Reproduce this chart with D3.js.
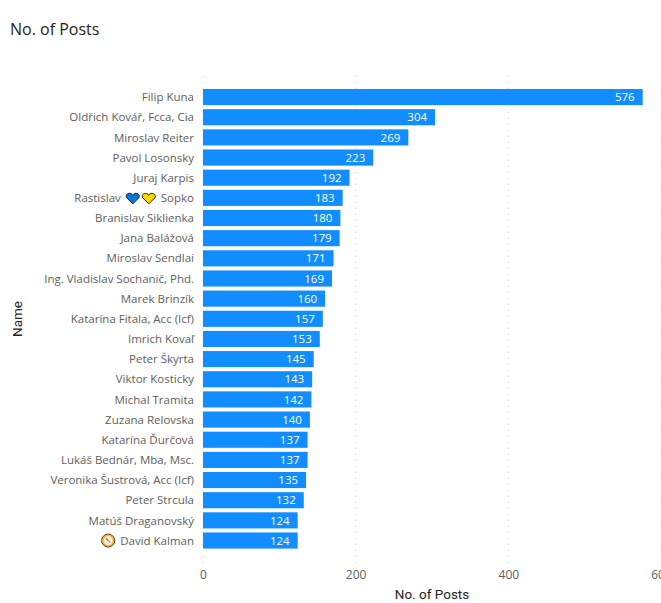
<!DOCTYPE html>
<html>
<head>
<meta charset="utf-8">
<script src="https://cdn.jsdelivr.net/npm/d3@7"></script>
<style>
html, body { margin: 0; padding: 0; background: #fff; overflow: hidden; }
text { font-family: "Open Sans", sans-serif; }
</style>
</head>
<body>
<div id="chart"></div>
<script>
var names = ["Filip Kuna", "Oldřich Kovář, Fcca, Cia", "Miroslav Reiter", "Pavol Losonsky", "Juraj Karpis",
	"Rastislav Sopko", "Branislav Siklienka", "Jana Balážová", "Miroslav Sendlai", "Ing. Vladislav Sochanič, Phd.",
	"Marek Brinzík", "Katarína Fitala, Acc (Icf)", "Imrich Kovaľ", "Peter Škyrta", "Viktor Kosticky",
	"Michal Tramita", "Zuzana Relovska", "Katarína Ďurčová", "Lukáš Bednár, Mba, Msc.", "Veronika Šustrová, Acc (Icf)",
	"Peter Strcula", "Matúš Draganovský", "David Kalman"];
var posts = [576, 304, 269, 223, 192, 183, 180, 179, 171, 169, 160, 157, 153, 145, 143, 142, 140, 137, 137, 135, 132, 124, 124];
var xTicks = [0, 200, 400, 600];
var titleText = "No. of Posts";
var xTitle = "No. of Posts";
var yTitle = "Name";

var width = 661, height = 603;
var labelX = 194;

var svg = d3.select("#chart").append("svg")
	.attr("width", width)
	.attr("height", height);

var x = d3.scaleLinear().domain([0, 600]).range([203, 661]);
var y = d3.scaleBand().domain(names).range([87, 550.6]).paddingInner(0.2).paddingOuter(0.1);

svg.append("text")
	.attr("x", 10)
	.attr("y", 35)
	.attr("font-size", 16)
	.attr("fill", "#252423")
	.text(titleText);

// dotted gridlines
svg.append("g").selectAll("line")
	.data(xTicks)
	.enter()
	.append("line")
	.attr("x1", function(d){ return x(d); })
	.attr("x2", function(d){ return x(d); })
	.attr("y1", 76)
	.attr("y2", 565)
	.attr("stroke", "#d2d0ce")
	.attr("stroke-width", 1)
	.attr("stroke-dasharray", "1,5");

var xAxis = d3.axisBottom(x).tickValues(xTicks).tickSize(0).tickPadding(0);
var xg = svg.append("g")
	.attr("transform", "translate(0,570)")
	.call(xAxis);
xg.select(".domain").remove();
xg.selectAll("text")
	.attr("font-size", 12)
	.attr("font-family", '"Open Sans", sans-serif')
	.attr("fill", "#605e5c");

svg.append("g").selectAll("rect")
	.data(posts)
	.enter()
	.append("rect")
	.attr("x", x(0))
	.attr("y", function(d, i){ return y(names[i]); })
	.attr("width", function(d){ return x(d) - x(0); })
	.attr("height", y.bandwidth())
	.attr("fill", "#118dff");

svg.append("g").selectAll("text")
	.data(posts)
	.enter()
	.append("text")
	.attr("x", function(d){ return x(d) - 8; })
	.attr("y", function(d, i){ return y(names[i]) + y.bandwidth() / 2; })
	.attr("dy", "0.36em")
	.attr("text-anchor", "end")
	.attr("font-size", 11.5)
	.attr("fill", "#fff")
	.text(function(d){ return d; });

function drawHeart(g, cx, cy, fill){
	g.append("path")
		.attr("transform", "translate(" + cx + "," + cy + ")")
		.attr("d", "M0,5.5 L-6,-0.5 C-7.6,-3 -5.5,-5 -3.2,-5 C-1.7,-5 -0.6,-4.2 0,-3 C0.6,-4.2 1.7,-5 3.2,-5 C5.5,-5 7.6,-3 6,-0.5 Z")
		.attr("fill", fill)
		.attr("stroke", "#1b1a19")
		.attr("stroke-width", 1);
}

function drawCompass(g, cx, cy){
	g.append("circle").attr("cx", cx).attr("cy", cy).attr("r", 6.5)
		.attr("fill", "#fdf3dc").attr("stroke", "#2b2010").attr("stroke-width", 1);
	g.append("circle").attr("cx", cx).attr("cy", cy).attr("r", 5.2)
		.attr("fill", "none").attr("stroke", "#ffb31a").attr("stroke-width", 1.5);
	g.append("line").attr("x1", cx - 2).attr("y1", cy - 2).attr("x2", cx).attr("y2", cy)
		.attr("stroke", "#d9483b").attr("stroke-width", 1.2);
	g.append("line").attr("x1", cx).attr("y1", cy).attr("x2", cx + 2).attr("y2", cy + 2)
		.attr("stroke", "#9a9a9a").attr("stroke-width", 1.2);
}

var labels = svg.append("g");
names.forEach(function(name){
	var cy = y(name) + y.bandwidth() / 2;
	var t = labels.append("text")
		.attr("x", labelX)
		.attr("y", cy)
		.attr("dy", "0.36em")
		.attr("text-anchor", "end")
		.attr("font-size", 11.5)
		.attr("fill", "#605e5c");
	if(name == "Rastislav Sopko"){
		t.append("tspan").text("Rastislav ");
		var after = t.append("tspan").attr("dx", 37).text("Sopko");
		var sopkoX = after.node().getStartPositionOfChar(0).x;
		drawHeart(labels, sopkoX - 28, cy + 0.5, "#0a78d6");
		drawHeart(labels, sopkoX - 12, cy + 0.5, "#ffd800");
	}
	else if(name == "David Kalman"){
		t.text(name);
		var left = t.node().getStartPositionOfChar(0).x;
		drawCompass(labels, left - 12, cy);
	}
	else{
		t.text(name);
	}
});

svg.append("text")
	.attr("x", 432)
	.attr("y", 599)
	.attr("text-anchor", "middle")
	.attr("font-size", 13.5)
	.attr("fill", "#252423")
	.style("font-family", "Roboto, sans-serif")
	.text(xTitle);

svg.append("text")
	.attr("transform", "translate(22,319) rotate(-90)")
	.attr("text-anchor", "middle")
	.attr("font-size", 13.5)
	.attr("fill", "#252423")
	.style("font-family", "Roboto, sans-serif")
	.text(yTitle);
</script>
</body>
</html>
